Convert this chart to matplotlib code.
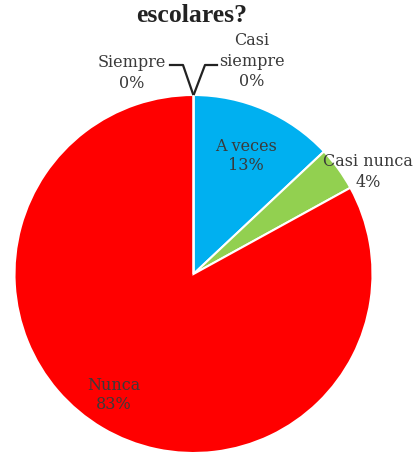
import matplotlib.pyplot as plt

categories = ['Casi siempre', 'A veces', 'Casi nunca', 'Nunca', 'Siempre']
values = [0, 13, 4, 83, 0]
colors = ['#7F7F7F', '#00B0F0', '#92D050', '#FF0000', '#C00000']
label_text = ['Casi\nsiempre\n0%', 'A veces\n13%', 'Casi nunca\n4%', 'Nunca\n83%', 'Siempre\n0%']

plt.rcParams['font.family'] = ['DejaVu Serif']

fig = plt.figure(figsize=(4.18, 4.58), dpi=100)
ax = fig.add_axes([0, 0, 1, 1])

cx, cy, r = 193.5, 184, 179
ax.pie(values, colors=colors, startangle=90, counterclock=False,
       center=(cx, cy), radius=r,
       wedgeprops=dict(edgecolor='white', linewidth=1.5))

ax.set_xlim(0, 418)
ax.set_ylim(0, 458)
ax.set_aspect('equal')
ax.axis('off')

ax.text(192, 443, 'escolares?', ha='center', va='center',
        fontsize=18.5, fontweight='bold', color='#222222',
        family='Liberation Serif')

# label positions (x, y in figure pixels, y up)
pos = [(252, 397), (246, 302), (368, 286), (114, 63), (132, 385)]
spacing = [1.3, 1.1, 1.3, 1.15, 1.3]
for (x, y), t, ls in zip(pos, label_text, spacing):
    ax.text(x, y, t, ha='center', va='center', fontsize=11.5,
            color='#3a3a3a', linespacing=ls)

# leader lines for the 0% slices meeting at the top of the pie
top = (cx, cy + r)
ax.plot([170, 183, top[0] - 0.5], [393, 393, top[1] + 1], color='#222222', lw=1.6)
ax.plot([217, 205, top[0] + 0.5], [393, 393, top[1] + 1], color='#222222', lw=1.6)

fig.savefig('out.png', dpi=100)
